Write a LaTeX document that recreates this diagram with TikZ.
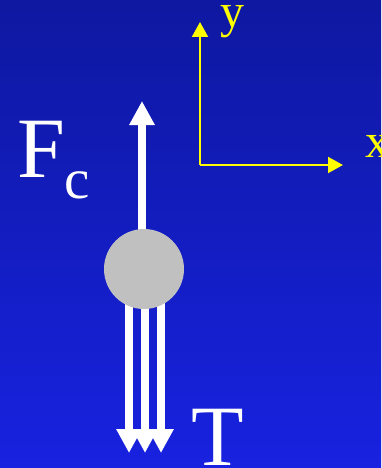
\documentclass[tikz,border=0pt]{standalone}
\usepackage{fontspec}
\setmainfont{Liberation Serif}
\usetikzlibrary{arrows.meta}
\definecolor{bgtop}{RGB}{14,24,160}
\definecolor{bgbot}{RGB}{24,34,224}
\definecolor{ballgray}{RGB}{192,192,192}
\definecolor{axisyellow}{RGB}{255,255,0}
\begin{document}
\begin{tikzpicture}[x=1pt,y=-1pt,
  force/.style={draw=white,line width=8pt,line cap=butt,-{Triangle[width=24pt,length=24pt]}},
  axis/.style={draw=axisyellow,line width=2pt,-{Triangle[width=16pt,length=15pt]}},
  ballstyle/.style={circle,fill=ballgray,minimum size=80pt,inner sep=0pt},
  biglabel/.style={text=white,font=\fontsize{86}{86}\selectfont,inner sep=0pt,anchor=base west},
  sublabel/.style={text=white,font=\fontsize{57}{57}\selectfont,inner sep=0pt,anchor=base west},
  axislabel/.style={text=axisyellow,font=\fontsize{48}{48}\selectfont,inner sep=0pt,anchor=base west}]
\useasboundingbox (0,0) rectangle (381,468);
\shade[top color=bgtop,bottom color=bgbot] (0,0) rectangle (381,468);
% force arrows (drawn from the ball centre, then covered by the ball)
\coordinate (ballc) at (144,269);
\coordinate (fctip) at (142,101);
\coordinate (t1) at (129,453);
\coordinate (t2) at (145,453);
\coordinate (t3) at (161,453);
\draw[force] (ballc -| fctip) -- (fctip);
\draw[force] (ballc -| t1) -- (t1);
\draw[force] (ballc -| t2) -- (t2);
\draw[force] (ballc -| t3) -- (t3);
\node[ballstyle] (ball) at (ballc) {};
% labels
\node[biglabel] (F) at (17,177) {F};
\node[sublabel] (c) at (64.5,198) {c};
\node[biglabel] (T) at (191,465) {T};
% axes
\coordinate (origin) at (200,165);
\coordinate (ytip) at (200,22);
\coordinate (xtip) at (343,165);
\draw[axis] (origin) -- (ytip);
\draw[axis] (origin) -- (xtip);
\node[axislabel] (ylab) at (220,28) {y};
\node[axislabel] (xlab) at (365,157) {x};
\end{tikzpicture}
\end{document}
